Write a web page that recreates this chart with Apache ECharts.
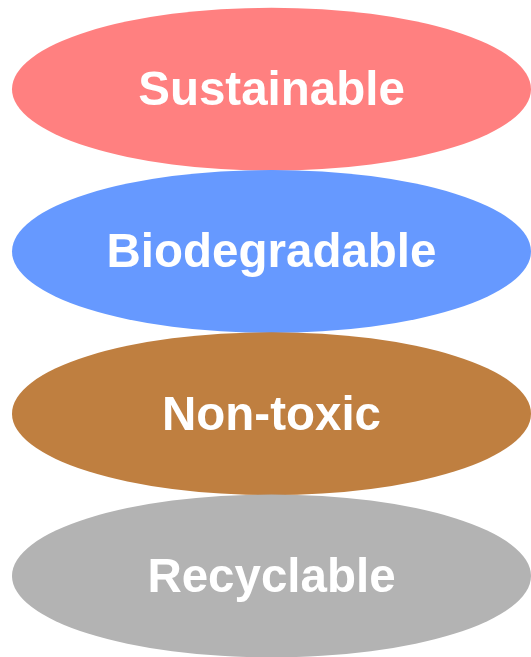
<!DOCTYPE html>
<html>
<head>
<meta charset="utf-8">
<script src="https://cdn.jsdelivr.net/npm/echarts@6/dist/echarts.min.js"></script>
<style>html,body{margin:0;padding:0;background:#fff;}#c{width:531px;height:657px;}</style>
</head>
<body>
<div id="c"></div>
<script>
var categories = ['Sustainable', 'Biodegradable', 'Non-toxic', 'Recyclable'];
var positions = [0, 0, 0, 0];
var colors = ['#FF8080', '#6699FF', '#BF7F40', '#B3B3B3'];

var chart = echarts.init(document.getElementById('c'));
chart.setOption({
  animation: false,
  grid: { left: 12, right: 0, top: 8, height: 651 },
  xAxis: { type: 'value', min: -1, max: 1, show: false },
  yAxis: { type: 'category', data: categories, inverse: true, show: false },
  series: [{
    type: 'scatter',
    symbol: 'circle',
    symbolSize: [519, 163],
    data: categories.map(function (c, i) {
      return { value: [positions[i], c], itemStyle: { color: colors[i], opacity: 1 } };
    }),
    label: {
      show: true,
      position: 'inside',
      offset: [0, 3],
      formatter: function (p) { return p.value[1]; },
      color: '#fff',
      fontSize: 47.5,
      fontWeight: 'bold',
      fontFamily: 'Liberation Sans, Arial, sans-serif'
    },
    emphasis: { disabled: true }
  }]
});
</script>
</body>
</html>
